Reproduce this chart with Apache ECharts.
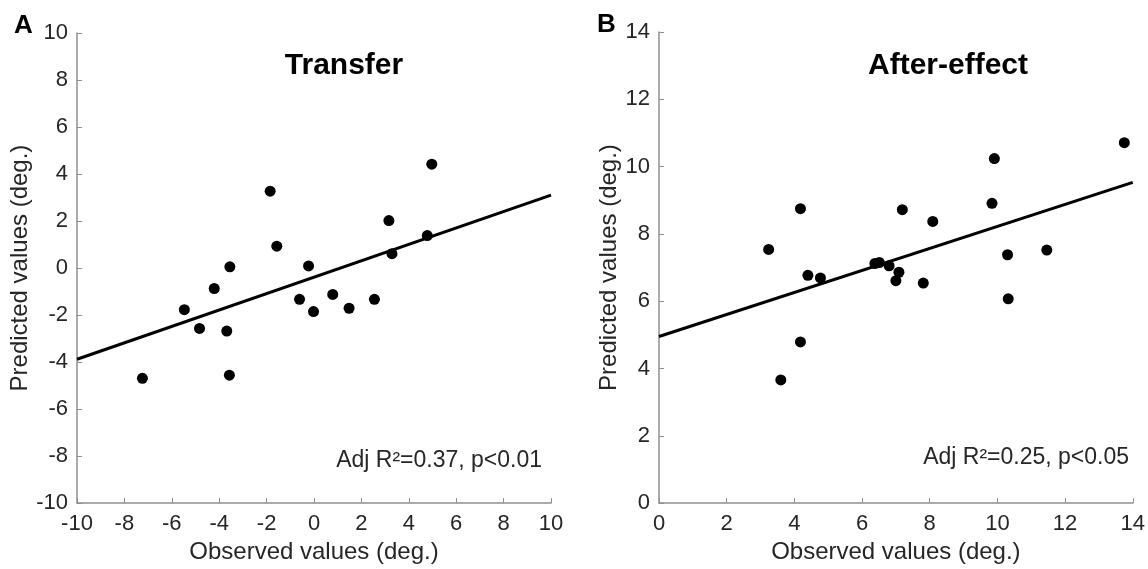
<!DOCTYPE html>
<html lang="en">

<head>
  <meta charset="UTF-8" />
  <script src="https://cdn.jsdelivr.net/npm/echarts@6/dist/echarts.min.js"></script>
  <title>Transfer / After-effect</title>
  <style>
    html, body { margin: 0; padding: 0; background: #fff; }
  </style>
</head>

<body>
  <div id="main" style="width: 1148px; height: 569px"></div>
  <script type="text/javascript">
    // panel A: transfer (observed, predicted)
    var transferObserved = [-7.24, -5.47, -4.83, -4.21, -3.68, -3.55, -3.57, -1.85, -1.57, -0.61,
      -0.23, -0.02, 0.79, 1.48, 2.55, 3.16, 3.29, 4.78, 4.97];
    var transferPredicted = [-4.69, -1.77, -2.57, -0.87, -2.68, 0.05, -4.56, 3.27, 0.93, -1.33,
      0.09, -1.85, -1.12, -1.71, -1.33, 2.02, 0.61, 1.38, 4.42];
    var transferFit = [[-10, -3.88], [10, 3.10]];

    // panel B: after-effect
    var afterObserved = [3.24, 3.60, 4.18, 4.18, 4.40, 4.77, 6.38, 6.51, 6.80, 7.00,
      7.09, 7.19, 7.81, 8.09, 9.84, 9.91, 10.30, 10.32, 11.46, 13.75];
    var afterPredicted = [7.54, 3.66, 8.75, 4.79, 6.77, 6.69, 7.12, 7.15, 7.05, 6.61,
      6.86, 8.72, 6.54, 8.37, 8.91, 10.24, 7.38, 6.07, 7.52, 10.71];
    var afterFit = [[0, 4.95], [14, 9.53]];

    var transferTicks = [-10, 10, 2];
    var afterTicks = [0, 14, 2];

    var font = "Liberation Sans, Arial, sans-serif";
    var axisGray = "#8f8f8f";
    var textDark = "#262626";

    function zip(xs, ys) {
      return xs.map(function (x, i) { return [x, ys[i]]; });
    }

    function makeAxis(ticks, idx, isY, nameGap) {
      return {
        type: "value",
        gridIndex: idx,
        min: ticks[0],
        max: ticks[1],
        interval: ticks[2],
        name: isY ? "Predicted values (deg.)" : "Observed values (deg.)",
        nameLocation: "middle",
        nameGap: nameGap,
        nameTextStyle: { fontFamily: font, fontSize: 24, color: textDark },
        axisLine: { onZero: false, lineStyle: { color: axisGray, width: 1.5 } },
        axisTick: { inside: true, length: 5, lineStyle: { color: axisGray, width: 1 } },
        axisLabel: { fontFamily: font, fontSize: 22, color: textDark, margin: isY ? 9 : 10 },
        splitLine: { show: false }
      };
    }

    var myChart = echarts.init(document.getElementById("main"));

    myChart.setOption({
      animation: false,
      grid: [
        { left: 77, top: 33, width: 474, height: 475 },
        { left: 659, top: 32, width: 474, height: 475 }
      ],
      xAxis: [
        makeAxis(transferTicks, 0, false, 36),
        makeAxis(afterTicks, 1, false, 36)
      ],
      yAxis: [
        makeAxis(transferTicks, 0, true, 42),
        makeAxis(afterTicks, 1, true, 35)
      ],
      series: [
        {
          type: "line",
          xAxisIndex: 0, yAxisIndex: 0,
          data: transferFit,
          showSymbol: false,
          lineStyle: { color: "#000", width: 3 },
          z: 2
        },
        {
          type: "scatter",
          xAxisIndex: 0, yAxisIndex: 0,
          data: zip(transferObserved, transferPredicted),
          symbolSize: 11,
          itemStyle: { color: "#000", opacity: 1 },
          z: 3
        },
        {
          type: "line",
          xAxisIndex: 1, yAxisIndex: 1,
          data: afterFit,
          showSymbol: false,
          lineStyle: { color: "#000", width: 3 },
          z: 2
        },
        {
          type: "scatter",
          xAxisIndex: 1, yAxisIndex: 1,
          data: zip(afterObserved, afterPredicted),
          symbolSize: 11,
          itemStyle: { color: "#000", opacity: 1 },
          z: 3
        }
      ],
      graphic: [
        // panel letters
        { type: "text", left: 14, top: 13, style: { text: "A", font: "bold 26px " + font, fill: "#000" } },
        { type: "text", left: 597, top: 12, style: { text: "B", font: "bold 26px " + font, fill: "#000" } },
        // titles
        { type: "text", x: 344, y: 66, style: { text: "Transfer", font: "bold 30px " + font, fill: "#000", textAlign: "center", textVerticalAlign: "middle" } },
        { type: "text", x: 948, y: 66, style: { text: "After-effect", font: "bold 30px " + font, fill: "#000", textAlign: "center", textVerticalAlign: "middle" } },
        // stats
        { type: "text", x: 542, y: 461, style: { text: "Adj R\u00b2=0.37, p<0.01", font: "23px " + font, fill: textDark, textAlign: "right", textVerticalAlign: "middle" } },
        { type: "text", x: 1129, y: 458, style: { text: "Adj R\u00b2=0.25, p<0.05", font: "23px " + font, fill: textDark, textAlign: "right", textVerticalAlign: "middle" } }
      ]
    });
  </script>
</body>

</html>
